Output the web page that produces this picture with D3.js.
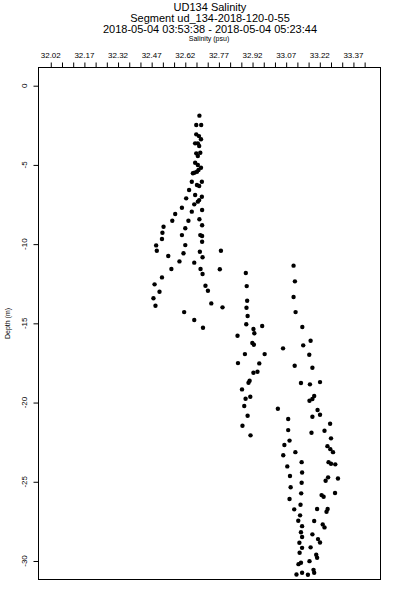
<!DOCTYPE html>
<html>
<title>UD134 Salinity</title>
<meta charset="UTF-8">
<head>
    <script src="https://d3js.org/d3.v7.min.js"></script>
    <style>
        body {margin: 0; background: white;}
        text {fill: black; font-family: "Liberation Sans", Arial, sans-serif;}
        .dot {fill: black;}
    </style>
</head>
<body>
<div class="chart"></div>
<script>

    var titleLines = ["UD134 Salinity",
                      "Segment ud_134-2018-120-0-55",
                      "2018-05-04 03:53:38 - 2018-05-04 05:23:44"];
    var xTitle = "Salinity (psu)",
        yTitle = "Depth (m)";

    // top axis: labels every 0.15, minor marks every 0.05
    var xLabels = [32.02, 32.17, 32.32, 32.47, 32.62, 32.77, 32.92, 33.07, 33.22, 33.37];
    var xMinor = [32.02, 32.07, 32.12, 32.17, 32.22, 32.27, 32.32, 32.37, 32.42, 32.47,
                  32.52, 32.57, 32.62, 32.67, 32.72, 32.77, 32.82, 32.87, 32.92, 32.97,
                  33.02, 33.07, 33.12, 33.17, 33.22, 33.27, 33.32, 33.37, 33.42];
    var yLabels = [0, -5, -10, -15, -20, -25, -30];

    // samples
    var salinity = [
        32.683, 32.669, 32.691, 32.669, 32.681, 32.690, 32.664, 32.676, 32.682, 32.669,
        32.687, 32.676, 32.664, 32.676, 32.690, 32.679, 32.672, 32.661, 32.654, 32.649,
        32.694, 32.672, 32.682, 32.637, 32.664, 32.694, 32.624, 32.682, 32.676, 32.660,
        32.605, 32.695, 32.649, 32.575, 32.562, 32.634, 32.683, 32.695, 32.523, 32.620,
        32.518, 32.605, 32.687, 32.695, 32.516, 32.695, 32.490, 32.620, 32.493, 32.779,
        32.685, 32.612, 32.544, 32.697, 32.594, 32.660, 32.558, 32.688, 32.774, 32.697,
        32.516, 32.483, 32.710, 32.721, 32.505, 32.478, 32.487, 32.736, 32.786, 32.615,
        32.660, 32.699,
        32.890, 32.894, 32.896, 32.893, 32.898, 32.892, 32.924, 32.963, 32.928, 32.853,
        32.919, 32.926, 33.056, 32.886, 32.974, 32.855, 32.950, 32.924, 32.942, 32.907,
        32.902, 32.873, 32.910, 32.889, 32.883, 32.898, 33.033, 32.875, 32.911,
        33.103, 33.109, 33.103, 33.112, 33.142, 33.179, 33.146, 33.173, 33.108, 33.187,
        33.136, 33.176, 33.221, 33.195, 33.187, 33.174, 33.210, 33.221, 33.187, 33.079,
        33.266, 33.241, 33.183, 33.079, 33.270, 33.085, 33.062, 33.254, 33.267, 33.279,
        33.111, 33.057, 33.139, 33.259, 33.270, 33.289, 33.075, 33.141, 33.087, 33.257,
        33.246, 33.301, 33.139, 33.090, 33.137, 33.228, 33.237, 33.288, 33.085, 33.134,
        33.106, 33.208, 33.255, 33.250, 33.132, 33.124, 33.195, 33.233, 33.241, 33.141,
        33.136, 33.141, 33.187, 33.212, 33.221, 33.129, 33.141, 33.179, 33.130, 33.204,
        33.208, 33.174, 33.136, 33.125, 33.192, 33.195, 33.116, 33.141, 33.167
    ];
    var depth = [
        -1.89, -2.48, -2.48, -3.07, -3.18, -3.38, -3.64, -3.64, -3.81, -4.27,
        -4.23, -4.44, -4.86, -5.01, -5.18, -5.32, -5.43, -5.49, -5.53, -6.06,
        -6.06, -6.27, -6.33, -6.58, -6.90, -7.01, -7.11, -7.22, -7.32, -7.49,
        -7.70, -7.85, -7.95, -8.10, -8.52, -8.52, -8.43, -8.81, -8.90, -9.00,
        -9.28, -9.43, -9.43, -9.49, -9.68, -9.85, -10.08, -10.06, -10.42, -10.42,
        -10.48, -10.58, -10.75, -10.83, -11.09, -11.17, -11.57, -11.57, -11.59, -11.89,
        -12.10, -12.54, -12.63, -12.94, -13.01, -13.42, -13.89, -13.74, -13.99, -14.29,
        -14.79, -15.28,
        -11.82, -12.65, -13.57, -14.02, -14.54, -15.06, -15.36, -15.17, -15.63, -15.78,
        -16.24, -16.35, -16.58, -16.94, -16.94, -17.51, -17.53, -18.12, -18.06, -18.62,
        -18.75, -19.17, -19.63, -19.76, -20.22, -20.83, -20.39, -21.46, -22.07,
        -11.36, -12.35, -13.34, -14.29, -15.23, -16.10, -16.39, -16.98, -17.68, -17.80,
        -18.77, -18.85, -18.71, -19.59, -19.78, -19.89, -20.47, -20.77, -20.90, -21.04,
        -21.34, -21.78, -21.91, -21.74, -22.26, -22.40, -22.68, -22.75, -22.94, -23.13,
        -23.13, -23.33, -23.76, -23.76, -23.86, -23.90, -24.03, -24.41, -24.64, -24.72,
        -24.94, -24.79, -25.06, -25.35, -25.73, -25.84, -25.95, -25.71, -26.09, -26.45,
        -26.74, -26.72, -26.72, -26.89, -27.12, -27.46, -27.48, -27.69, -27.88, -27.80,
        -28.19, -28.49, -28.32, -28.62, -28.83, -28.85, -29.17, -29.14, -29.48, -29.61,
        -29.80, -30.01, -30.11, -30.20, -30.56, -30.74, -30.85, -30.74, -30.87
    ];

    var width = 400,
        height = 600,
        box = {left: 38, right: 381, top: 67, bottom: 580};

    var x = d3.scaleLinear()
        .domain([31.963, 33.493])
        .range([box.left, box.right]);

    var y = d3.scaleLinear()
        .domain([1.18, -31.2])
        .range([box.top, box.bottom]);

    var svg = d3.select(".chart").append("svg")
        .attr("width", width)
        .attr("height", height);

    // titles
    svg.selectAll(".title")
        .data(titleLines)
        .enter().append("text")
        .attr("class", "title")
        .attr("x", 210)
        .attr("y", function(d, i) {return 11 + i * 11.2})
        .attr("text-anchor", "middle")
        .style("font-size", "11px")
        .text(function(d) {return d;});

    svg.append("text")
        .attr("x", 209)
        .attr("y", 40.5)
        .attr("text-anchor", "middle")
        .style("font-size", "7px")
        .text(xTitle);

    // top axis
    var xAxis = d3.axisTop(x)
        .tickValues(xMinor)
        .tickSize(5)
        .tickFormat("");

    svg.append("g")
        .attr("transform", "translate(0," + (box.top + 0.5) + ")")
        .call(xAxis)
        .call(function(g) {g.select(".domain").remove();});

    svg.selectAll(".xlab")
        .data(xLabels)
        .enter().append("text")
        .attr("class", "xlab")
        .attr("x", function(d) {return x(d)})
        .attr("y", 57.5)
        .attr("text-anchor", "middle")
        .style("font-size", "8px")
        .text(function(d) {return d3.format(".2f")(d)});

    // left axis
    var yAxis = d3.axisLeft(y)
        .tickValues(yLabels)
        .tickSize(5)
        .tickFormat("");

    svg.append("g")
        .attr("transform", "translate(" + (box.left + 0.5) + ",0)")
        .call(yAxis)
        .call(function(g) {g.select(".domain").remove();});

    svg.selectAll(".ylab")
        .data(yLabels)
        .enter().append("text")
        .attr("class", "ylab")
        .attr("transform", function(d) {return "translate(27," + y(d) + ") rotate(-90)"})
        .attr("text-anchor", "middle")
        .style("font-size", "8px")
        .text(function(d) {return d;});

    svg.append("text")
        .attr("transform", "translate(9.5," + ((box.top + box.bottom) / 2) + ") rotate(-90)")
        .attr("text-anchor", "middle")
        .style("font-size", "7px")
        .text(yTitle);

    svg.selectAll("path, line").attr("stroke", "black");

    // plot frame
    svg.append("rect")
        .attr("x", box.left + 0.5)
        .attr("y", box.top + 0.5)
        .attr("width", box.right - box.left - 1)
        .attr("height", box.bottom - box.top - 1)
        .attr("fill", "none")
        .attr("stroke", "black")
        .attr("stroke-width", 1);

    // points
    svg.append("g")
        .selectAll("circle")
        .data(d3.range(salinity.length))
        .enter().append("circle")
        .attr("class", "dot")
        .attr("cx", function(i) {return x(salinity[i])})
        .attr("cy", function(i) {return y(depth[i])})
        .attr("r", 2.2);

</script>
</body>
</html>
